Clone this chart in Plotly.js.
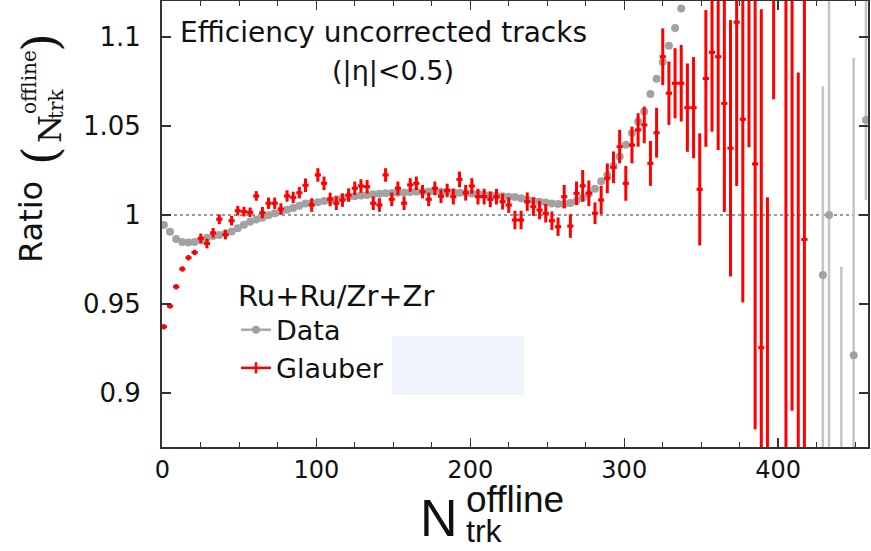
<!DOCTYPE html>
<html>
<head>
<meta charset="utf-8">
<script src="https://cdn.plot.ly/plotly-3.0.1.min.js"></script>
<style>html,body{margin:0;padding:0;background:#fff;}#chart{width:871px;height:551px;}</style>
</head>
<body>
<div id="chart"></div>
<script>
// Bin centres (N_trk^offline) for the Glauber ratio
var binCenters = [1,5,9,13,17,21,25,29,33,37,41,45,49,53,57,61,65,69,73,77,81,85,89,93,97,101,105,109,113,117,121,125,129,133,137,141,145,149,153,157,161,165,169,173,177,181,185,189,193,197,201,205,209,213,217,221,225,229,233,237,241,245,249,253,257,261,265,269,273,277,281,285,289,293,297,301,305,309,313,317,321,325,329,333,337,341,345,349,353,357,361,365,369,373,377,381,385,389,393,397,401,405,409,413,417];

var glauberRatio = [0.9372,0.9489,0.9597,0.9697,0.9760,0.9790,0.9869,0.9840,0.9900,0.9976,
 0.9890,0.9968,1.0024,1.0019,1.0015,1.0107,1.0013,1.0066,1.0066,1.0034,
 1.0107,1.0099,1.0125,1.0167,1.0056,1.0225,1.0178,1.0088,1.0066,1.0084,
 1.0112,1.0150,1.0163,1.0159,1.0066,1.0056,1.0225,1.0088,1.0150,1.0066,
 1.0169,1.0178,1.0131,1.0088,1.0150,1.0105,1.0138,1.0103,1.0200,1.0125,
 1.0163,1.0103,1.0103,1.0088,1.0103,1.0075,1.0056,0.9972,0.9972,1.0075,
 1.0047,1.0028,1.0010,0.9968,0.9934,1.0103,0.9938,1.0122,1.0164,1.0122,
 1.0010,1.0084,1.0206,1.0268,1.0384,1.0178,1.0393,1.0478,1.0506,1.0290,
 1.0462,1.0889,1.0684,1.0740,1.0740,1.0603,1.0603,1.0144,1.0767,1.0914,
 1.0889,1.0627,1.0375,1.1083,1.0538,1.1480,1.0287,0.9255,0.8000,1.2100,
 null,0.8000,1.1500,0.8000,0.9863];

var glauberErr = [0.0015,0.0015,0.0015,0.0015,0.0015,0.0015,0.0027,0.0027,0.0027,0.0027,
 0.0027,0.0027,0.0027,0.0027,0.0027,0.0027,0.0032,0.0032,0.0032,0.0032,
 0.0032,0.0032,0.0032,0.0038,0.0038,0.0038,0.0038,0.0038,0.0038,0.0038,
 0.0038,0.0038,0.0038,0.0038,0.0038,0.0038,0.0038,0.0038,0.0038,0.0038,
 0.0038,0.0038,0.0038,0.0038,0.0038,0.0038,0.0038,0.0044,0.0044,0.0044,
 0.0044,0.0044,0.0044,0.0044,0.0044,0.0044,0.0044,0.0052,0.0052,0.0052,
 0.0052,0.0052,0.0052,0.0052,0.0052,0.0066,0.0066,0.0066,0.0089,0.0072,
 0.0061,0.0080,0.0084,0.0089,0.0094,0.0098,0.0103,0.0094,0.0103,0.0126,
 0.0140,0.0159,0.0178,0.0197,0.0215,0.0248,0.0284,0.0315,0.0384,0.0446,
 0.0524,0.0610,0.0720,0.0920,0.1030,0.1100,0.1490,0.1900,0.2100,0.1450,
 null,0.3500,0.2600,0.2800,0.2000];

// Data (measured) ratio
var dataX = [1,5,9,13,17,21,25,29,33,37,41,45,49,53,57,61,65,69,73,77,81,85,89,93,97,101,105,109,113,117,121,125,129,133,137,141,145,149,153,157,161,165,169,173,177,181,185,189,193,197,201,205,209,213,217,221,225,229,233,237,241,245,249,253,257,261,265,269,273,277,281,285,289,293,297,301,305,309,313,317,321,325,329,333,337,429,433,441,449,457];

var dataRatio = [0.9944,0.9906,0.9865,0.9848,0.9845,0.9848,0.9858,0.9872,0.9882,0.9888,
 0.9896,0.9908,0.9926,0.9945,0.9962,0.9975,0.9985,0.9998,1.0010,1.0021,
 1.0030,1.0039,1.0052,1.0064,1.0068,1.0072,1.0078,1.0083,1.0088,1.0095,
 1.0102,1.0106,1.0110,1.0113,1.0117,1.0120,1.0122,1.0124,1.0125,1.0127,
 1.0129,1.0131,1.0131,1.0132,1.0132,1.0131,1.0130,1.0128,1.0125,1.0123,
 1.0121,1.0118,1.0114,1.0111,1.0108,1.0105,1.0103,1.0101,1.0094,1.0086,
 1.0080,1.0075,1.0070,1.0065,1.0062,1.0062,1.0068,1.0080,1.0095,1.0120,
 1.0148,1.0190,1.0222,1.0275,1.0328,1.0395,1.0460,1.0525,1.0582,1.0680,
 1.0765,1.0860,1.0950,1.1050,1.1160,
 0.9663,1.0000,0.8400,0.9213,1.0534];

var dataErrPlus = [0,0,0,0,0,0,0,0,0,0, 0,0,0,0,0,0,0,0,0,0, 0,0,0,0,0,0,0,0,0,0, 0,0,0,0,0,0,0,0,0,0,
 0,0,0,0,0,0,0,0,0,0, 0,0,0,0,0,0,0,0,0,0, 0,0,0,0,0,0,0,0,0,0, 0,0,0,0,0,0,0,0,0,0, 0,0,0,0,0,
 0.106,0.150,0.131,0.167,0.100];
var dataErrMinus = [0,0,0,0,0,0,0,0,0,0, 0,0,0,0,0,0,0,0,0,0, 0,0,0,0,0,0,0,0,0,0, 0,0,0,0,0,0,0,0,0,0,
 0,0,0,0,0,0,0,0,0,0, 0,0,0,0,0,0,0,0,0,0, 0,0,0,0,0,0,0,0,0,0, 0,0,0,0,0,0,0,0,0,0, 0,0,0,0,0,
 0.106,0.150,0.131,0.167,0.045];

var yTickVals = [0.9, 0.95, 1, 1.05, 1.1];
var yTickText = ['0.9', '0.95', '1', '1.05', '1.1'];
var seriesNames = ['Data', 'Glauber'];
var legendTitle = 'Ru+Ru/Zr+Zr';

var RED = '#ff0000', GREY = '#a2a2a2', GREYBAR = '#c4c4c4';

var traces = [
  {type:'scatter', mode:'markers', x:dataX, y:dataRatio, showlegend:false, name:seriesNames[0],
   marker:{color:GREY, size:8},
   error_y:{type:'data', symmetric:false, array:dataErrPlus, arrayminus:dataErrMinus, color:GREYBAR, thickness:2.5, width:0}},
  {type:'scatter', mode:'markers', x:binCenters, y:glauberRatio, showlegend:false, name:seriesNames[1],
   marker:{color:RED, size:4},
   error_y:{type:'data', array:glauberErr, color:RED, thickness:3, width:0},
   error_x:{type:'constant', value:2, color:RED, thickness:3, width:0}},
  {type:'scatter', mode:'lines+markers', x:[null], y:[null], name:seriesNames[0], showlegend:true,
   line:{color:'#a8a8a8', width:2.5}, marker:{color:GREY, size:8}},
  {type:'scatter', mode:'lines+markers', x:[null], y:[null], name:seriesNames[1], showlegend:true,
   line:{color:RED, width:2.5}, marker:{color:RED, size:8, symbol:'line-ns-open', line:{color:RED, width:2.5}}}
];

function px(x){ return (x - 162) / 706; }
function py(y){ return (447 - y) / 446; }

var serif = 'DejaVu Serif, serif';
var sans = 'Liberation Sans, Arial, sans-serif';
var annotations = [
  {xref:'paper', yref:'paper', x:px(383), y:py(33), text:'Efficiency uncorrected tracks', showarrow:false, xanchor:'center', yanchor:'middle', font:{size:28, color:'#111'}},
  {xref:'paper', yref:'paper', x:px(393), y:py(71), text:'(|η|<0.5)', showarrow:false, xanchor:'center', yanchor:'middle', font:{size:27, color:'#111'}},
  // y-axis title pieces
  {xref:'paper', yref:'paper', x:px(31), y:py(222), text:'Ratio', textangle:-90, showarrow:false, xanchor:'center', yanchor:'middle', font:{size:32, color:'#111'}},
  {xref:'paper', yref:'paper', x:px(40), y:py(156), text:'(', textangle:-90, showarrow:false, xanchor:'center', yanchor:'middle', font:{family:serif, size:48, color:'#111'}},
  {xref:'paper', yref:'paper', x:px(50), y:py(129), text:'N', textangle:-90, showarrow:false, xanchor:'center', yanchor:'middle', font:{family:serif, size:32, color:'#111'}},
  {xref:'paper', yref:'paper', x:px(56), y:py(103), text:'trk', textangle:-90, showarrow:false, xanchor:'center', yanchor:'middle', font:{family:serif, size:20, color:'#111'}},
  {xref:'paper', yref:'paper', x:px(29), y:py(82), text:'offline', textangle:-90, showarrow:false, xanchor:'center', yanchor:'middle', font:{family:serif, size:20, color:'#111'}},
  {xref:'paper', yref:'paper', x:px(40), y:py(43), text:')', textangle:-90, showarrow:false, xanchor:'center', yanchor:'middle', font:{family:serif, size:48, color:'#111'}},
  // x-axis title pieces
  {xref:'paper', yref:'paper', x:px(459), y:py(518), text:'N', showarrow:false, xanchor:'right', yanchor:'middle', borderpad:0, font:{family:sans, size:52, color:'#111'}},
  {xref:'paper', yref:'paper', x:px(465), y:py(550), text:'<span style="font-size:37px">offline</span><br><span style="font-size:32px">trk</span>', align:'left', showarrow:false, xanchor:'left', yanchor:'bottom', borderpad:0, font:{family:sans, size:23, color:'#111'}}
];

var layout = {
  width:871, height:551,
  margin:{l:162, r:3, t:1, b:104, pad:0},
  paper_bgcolor:'#ffffff', plot_bgcolor:'#ffffff',
  font:{family:'DejaVu Sans, sans-serif', size:26, color:'#111'},
  xaxis:{range:[-0.2, 458.3], tickmode:'linear', tick0:0, dtick:100,
         ticks:'inside', ticklen:9, tickwidth:1.5, tickcolor:'#333',
         showline:true, linewidth:2, linecolor:'#333', mirror:'ticks',
         showgrid:false, zeroline:false, ticklabelstandoff:0,
         tickfont:{size:24, color:'#111'},
         minor:{tick0:0, dtick:25, ticks:'inside', ticklen:5, tickwidth:1.2, tickcolor:'#333', showgrid:false}},
  yaxis:{range:[0.8697, 1.1202], tickmode:'array', tickvals:yTickVals, ticktext:yTickText,
         ticks:'inside', ticklen:9, tickwidth:1.5, tickcolor:'#333',
         showline:true, linewidth:2, linecolor:'#333', mirror:'ticks',
         showgrid:false, zeroline:false, ticklabelstandoff:14,
         tickfont:{size:26, color:'#111'}},
  legend:{x:px(236), y:py(268), xanchor:'left', yanchor:'top', bgcolor:'rgba(0,0,0,0)',
          borderwidth:0, font:{size:27, color:'#111'}, traceorder:'normal',
          title:{text:legendTitle, font:{size:29, color:'#111'}}},
  shapes:[
    {type:'rect', xref:'paper', yref:'paper', x0:px(392), x1:px(524), y0:py(395), y1:py(336),
     fillcolor:'#eff3fb', line:{width:0}, layer:'below'},
    {type:'line', xref:'paper', yref:'y', x0:0, x1:1, y0:1, y1:1,
     line:{color:'#333', width:1.2, dash:'dot'}, layer:'below'}
  ],
  annotations:annotations
};

Plotly.newPlot('chart', traces, layout, {displayModeBar:false, staticPlot:true});
</script>
</body>
</html>
